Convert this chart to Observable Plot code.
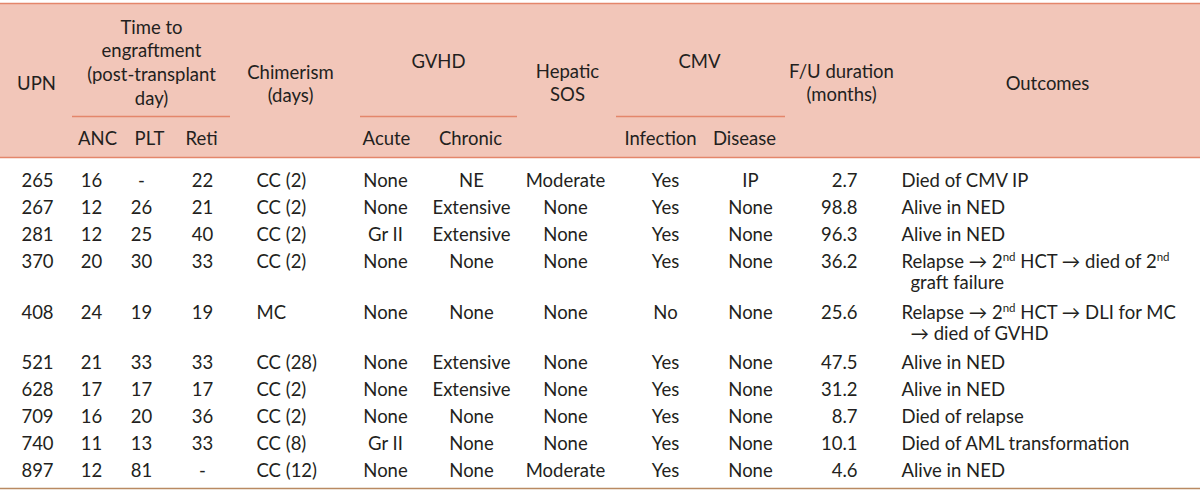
<!DOCTYPE html>
<html>
<head>
<meta charset="utf-8">
<script src="https://cdn.jsdelivr.net/npm/d3@7"></script>
<script src="https://cdn.jsdelivr.net/npm/@observablehq/plot@0.6"></script>
<style>
  html, body { margin: 0; padding: 0; background: #ffffff; }
  #chart { width: 1200px; height: 493px; overflow: hidden; }
</style>
</head>
<body>
<div id="chart"></div>
<script>
// ---------- DATA ----------
const upn = [265, 267, 281, 370, 408, 521, 628, 709, 740, 897];
const anc = [16, 12, 12, 20, 24, 21, 17, 16, 11, 12];
const plt = ["-", 26, 25, 30, 19, 33, 17, 20, 13, 81];
const reti = [22, 21, 40, 33, 19, 33, 17, 36, 33, "-"];
const chimerism = ["CC (2)", "CC (2)", "CC (2)", "CC (2)", "MC", "CC (28)", "CC (2)", "CC (2)", "CC (8)", "CC (12)"];
const gvhdAcute = ["None", "None", "Gr II", "None", "None", "None", "None", "None", "Gr II", "None"];
const gvhdChronic = ["NE", "Extensive", "Extensive", "None", "None", "Extensive", "Extensive", "None", "None", "None"];
const hepaticSOS = ["Moderate", "None", "None", "None", "None", "None", "None", "None", "None", "Moderate"];
const cmvInfection = ["Yes", "Yes", "Yes", "Yes", "No", "Yes", "Yes", "Yes", "Yes", "Yes"];
const cmvDisease = ["IP", "None", "None", "None", "None", "None", "None", "None", "None", "None"];
const fuMonths = ["2.7", "98.8", "96.3", "36.2", "25.6", "47.5", "31.2", "8.7", "10.1", "4.6"];
const outcomes = [
  ["Died of CMV IP"],
  ["Alive in NED"],
  ["Alive in NED"],
  ["Relapse → 2^{nd} HCT → died of 2^{nd}", "graft failure"],
  ["Relapse → 2^{nd} HCT → DLI for MC", "→ died of GVHD"],
  ["Alive in NED"],
  ["Alive in NED"],
  ["Died of relapse"],
  ["Died of AML transformation"],
  ["Alive in NED"]
];
const headerLabels = ["UPN", "Time to\nengraftment\n(post-transplant\nday)", "Chimerism\n(days)", "GVHD", "Hepatic\nSOS", "CMV", "F/U duration\n(months)", "Outcomes"];
const subLabels = ["ANC", "PLT", "Reti", "Acute", "Chronic", "Infection", "Disease"];

// ---------- LAYOUT (positions / styles) ----------
const W = 1200, H = 493;
const font = "Lato, 'Open Sans', sans-serif";
const fontSize = 18.5;
const ink = "#231f20";
const headFill = "#f2c6b9";
const lineColor = "#e4866b";
const bottomColor = "#b98a62";
const headTop = 3, headBottom = 157, groupLineY = 116, subY = 137, bottomY = 488;
const firstRowY = 179, rowStep = 27, extraLineStep = 23.5, wrapOffset = 21;

const bodyCols = [
  {values: upn, x: 37, anchor: "middle"},
  {values: anc, x: 91, anchor: "middle"},
  {values: plt, x: 141, anchor: "middle"},
  {values: reti, x: 202, anchor: "middle"},
  {values: chimerism, x: 256, anchor: "start"},
  {values: gvhdAcute, x: 385, anchor: "middle"},
  {values: gvhdChronic, x: 471, anchor: "middle"},
  {values: hepaticSOS, x: 565, anchor: "middle"},
  {values: cmvInfection, x: 665, anchor: "middle"},
  {values: cmvDisease, x: 750, anchor: "middle"},
  {values: fuMonths, x: 857, anchor: "end"}
];
const outcomeX = 901, outcomeWrapX = 910;

const headerPos = [
  {x: 36, y: 82}, {x: 151, y: 61}, {x: 290, y: 82.5}, {x: 438, y: 60},
  {x: 567, y: 81.5}, {x: 699, y: 60}, {x: 841, y: 81.5}, {x: 1047, y: 82}
];
const subX = [97, 149, 201, 386, 470, 660, 744];
const groupLines = [[72, 230], [360, 517], [616, 785]];

// row positions depend on number of outcome lines
const rowY = [];
{
  let y = firstRowY;
  outcomes.forEach((lines, i) => { rowY[i] = y; y += rowStep + (lines.length - 1) * extraLineStep; });
}

// ---------- build cell tables ----------
const cells = [];
bodyCols.forEach(col => col.values.forEach((v, i) => cells.push({x: col.x, y: rowY[i], text: String(v), anchor: col.anchor})));
outcomes.forEach((lines, i) => lines.forEach((t, j) => cells.push({x: j === 0 ? outcomeX : outcomeWrapX, y: rowY[i] + j * wrapOffset, text: t, anchor: "start"})));
headerLabels.forEach((t, i) => cells.push({x: headerPos[i].x, y: headerPos[i].y, text: t, anchor: "middle", head: true}));
subLabels.forEach((t, i) => cells.push({x: subX[i], y: subY, text: t, anchor: "middle"}));

const rules = [
  {y: headTop, x1: 0, x2: W, c: lineColor},
  {y: headBottom, x1: 0, x2: W, c: lineColor},
  {y: bottomY, x1: 0, x2: W, c: bottomColor},
  ...groupLines.map(([a, b]) => ({y: groupLineY, x1: a, x2: b, c: lineColor}))
];

const textMark = (anchor) => Plot.text(cells.filter(d => d.anchor === anchor), {
  x: "x", y: "y", text: "text", textAnchor: anchor, lineAnchor: "middle",
  lineHeight: 23.7 / fontSize, fontSize: fontSize, fill: ink
});

const svg = Plot.plot({
  width: W, height: H, margin: 0,
  x: {domain: [0, W], range: [0, W], axis: null},
  y: {domain: [0, H], range: [0, H], axis: null},
  style: {fontFamily: font, fontSize: fontSize + "px", background: "#ffffff", color: ink},
  marks: [
    Plot.rect([{x1: 0, x2: W, y1: headTop, y2: headBottom}], {x1: "x1", x2: "x2", y1: "y1", y2: "y2", fill: headFill}),
    Plot.ruleY(rules, {y: "y", x1: "x1", x2: "x2", stroke: "c", strokeWidth: 1.3}),
    textMark("start"),
    textMark("middle"),
    textMark("end")
  ]
});

// superscripts: turn "^{..}" markers into raised tspans; widen arrows slightly
{
  const walker = document.createTreeWalker(svg, NodeFilter.SHOW_TEXT);
  const nodes = [];
  while (walker.nextNode()) if (walker.currentNode.nodeValue.includes("^{")) nodes.push(walker.currentNode);
  const NS = "http://www.w3.org/2000/svg";
  nodes.forEach(node => {
    const parts = node.nodeValue.split(/\^\{([^}]*)\}/);
    const frag = document.createDocumentFragment();
    let raised = false;
    parts.forEach((p, k) => {
      if (p === "") return;
      const ts = document.createElementNS(NS, "tspan");
      ts.textContent = p;
      if (k % 2 === 1) {
        ts.setAttribute("font-size", "11.5px");
        ts.setAttribute("dy", "-7");
        raised = true;
      } else if (raised) {
        ts.setAttribute("dy", "7");
        raised = false;
      }
      frag.appendChild(ts);
    });
    node.parentNode.replaceChild(frag, node);
  });
}

document.getElementById("chart").appendChild(svg);
</script>
</body>
</html>
